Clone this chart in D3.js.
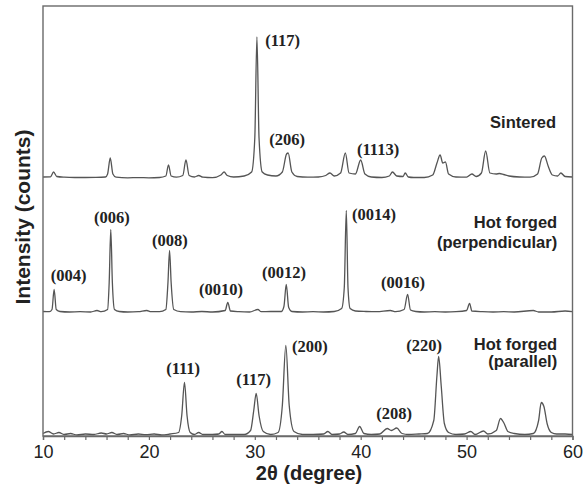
<!DOCTYPE html>
<html>
<head>
<meta charset="utf-8">
<script src="https://cdn.jsdelivr.net/npm/d3@7"></script>
<style>
  html, body { margin: 0; padding: 0; background: #fff; }
  svg { display: block; }
</style>
</head>
<body>
<svg id="chart" width="584" height="486"></svg>
<script>
// ---------- data (2θ in degrees, intensity in arbitrary counts above each trace's baseline) ----------
const sintered = [
  [10.0,10],[10.7,12],[11.0,60],[11.3,15],[12,8],[13,5],[14,5],[15,6],[15.9,10],[16.1,40],[16.35,200],[16.6,40],
  [16.9,8],[18,2],[19,4],[20,2],[21,5],[21.6,20],[21.85,130],[22.1,20],[22.6,8],[23.2,25],[23.5,180],[23.8,25],
  [24.3,10],[24.7,25],[25.1,8],[26,3],[26.8,30],[27.1,60],[27.4,25],[28,10],[29,20],[29.7,60],[30.0,400],
  [30.2,1410],[30.4,400],[30.7,60],[31.2,30],[32,20],[32.6,60],[33.0,240],[33.15,250],[33.5,60],[34,15],[35,8],
  [36,10],[36.7,25],[37.1,50],[37.5,20],[38.1,50],[38.55,250],[38.9,50],[39.5,40],[40.0,180],[40.4,40],[41,10],
  [42,5],[42.7,20],[43.0,60],[43.4,20],[44.0,15],[44.2,50],[44.5,10],[45,5],[46,5],[46.8,30],[47.2,150],
  [47.5,230],[47.75,150],[48.0,160],[48.3,40],[49,10],[50,8],[50.5,40],[50.9,15],[51.4,50],[51.8,270],[52.2,50],
  [52.8,40],[53.1,45],[53.5,35],[54,20],[55,10],[56,8],[56.7,40],[57.1,200],[57.35,220],[57.7,120],[58.1,30],
  [58.6,20],[58.9,50],[59.3,15],[60,10]
];
const perpendicular = [
  [10,10],[10.6,8],[10.85,30],[11.05,230],[11.25,30],[11.6,10],[12.5,5],[13.5,8],[14.5,5],[15.1,20],[15.5,8],
  [16.1,30],[16.25,300],[16.4,830],[16.55,300],[16.75,30],[17.2,10],[18,5],[19,8],[19.8,20],[20.2,8],[21,8],
  [21.6,30],[21.8,300],[21.95,620],[22.1,300],[22.35,30],[23,8],[24,5],[25,10],[26,5],[27.2,20],[27.45,100],
  [27.7,15],[28.5,8],[29.5,5],[30.3,30],[30.6,8],[31.5,10],[32.5,10],[32.75,60],[32.97,280],[33.2,50],[33.5,10],
  [34.5,5],[35.5,8],[36.5,5],[37.5,10],[38.2,40],[38.45,250],[38.64,1020],[38.8,250],[39.0,40],[39.5,15],
  [40.5,10],[41.5,8],[42.8,20],[43.3,8],[44.1,30],[44.43,180],[44.7,25],[45.2,10],[46,5],[47,8],[48,5],[49,8],
  [50.0,20],[50.28,90],[50.5,15],[51.5,8],[52.5,5],[53.5,8],[54.5,5],[56.3,20],[56.8,5],[58,5],[59.3,15],[60,8]
];
const parallel = [
  [10,20],[10.5,40],[11,15],[11.5,30],[12,10],[12.6,20],[13.2,5],[14,15],[14.8,10],[15.5,25],[16,15],[16.5,30],
  [17,10],[17.6,20],[18.2,5],[19,15],[19.7,8],[20.5,15],[21.2,5],[22,15],[22.8,30],[23.1,200],[23.36,530],
  [23.6,200],[23.9,30],[24.3,10],[24.7,30],[25.1,10],[26,10],[26.6,15],[26.9,40],[27.2,10],[28,10],[29,10],
  [29.6,50],[29.9,250],[30.13,420],[30.4,200],[30.8,40],[31.5,10],[32.2,30],[32.6,300],[32.93,900],[33.25,300],
  [33.7,40],[34.5,10],[35.5,10],[36.5,15],[36.9,40],[37.3,10],[38,15],[38.4,35],[38.8,10],[39.5,20],[39.9,90],
  [40.3,20],[41,10],[41.8,15],[42.5,70],[42.9,50],[43.4,75],[43.9,20],[44.5,10],[45.5,15],[46.3,20],[46.9,150],
  [47.2,600],[47.36,790],[47.6,500],[47.9,120],[48.3,30],[49,10],[49.8,15],[50.4,40],[50.8,10],[51.6,45],[52,15],
  [52.8,50],[53.2,170],[53.5,130],[53.9,40],[54.5,20],[55.5,10],[56.3,20],[56.8,150],[57.05,330],[57.3,290],
  [57.6,120],[58,30],[58.5,15],[59.3,15],[60,10]
];
const seriesNames = ["Sintered", "Hot forged (perpendicular)", "Hot forged (parallel)"];
const xTicks = [10,12,14,16,18,20,22,24,26,28,30,32,34,36,38,40,42,44,46,48,50,52,54,56,58,60];
const xTickLabels = ["10","20","30","40","50","60"];
// peak index labels: [text, 2θ of label start, intensity level (stacked counts)]
const peakLabels = [
  ["(117)", 30.98, 3900], ["(206)", 31.36, 2910], ["(1113)", 39.65, 2810],
  ["(004)", 10.73, 1550], ["(006)", 14.82, 2130], ["(008)", 20.30, 1900], ["(0010)", 24.74, 1410],
  ["(0012)", 30.67, 1580], ["(0014)", 39.18, 2160], ["(0016)", 41.92, 1480],
  ["(111)", 21.63, 620], ["(117)", 28.24, 510], ["(200)", 33.51, 840], ["(208)", 41.47, 170], ["(220)", 44.31, 850]
];
// series name labels: [line text, 2θ of right edge, stacked counts level]
const seriesLabels = [
  ["Sintered", 58.45, 3080],
  ["Hot forged", 58.55, 2080], ["(perpendicular)", 58.55, 1880],
  ["Hot forged", 58.55, 860], ["(parallel)", 58.55, 690]
];
// vertical stacking offsets (counts) for the three traces
const offsets = [2580, 1235, 5];

// ---------- layout ----------
const svg = d3.select("#chart");
const L = 43, R = 572.5, T = 6, B = 436;
const x = d3.scaleLinear().domain([10, 60]).range([L, R]);
const y = d3.scaleLinear().domain([0, 4300]).range([B, T]);

const traceColor = "#555";
const frameColor = "#6a6a6a";

// traces
const line = d3.line().x(d => x(d[0])).y(d => y(d[1])).curve(d3.curveMonotoneX);
[sintered, perpendicular, parallel].forEach((s, i) => {
  svg.append("path")
    .datum(s.map(d => [d[0], d[1] + offsets[i]]))
    .attr("d", line)
    .attr("fill", "none")
    .attr("stroke", traceColor)
    .attr("stroke-width", 1.3)
    .attr("stroke-linejoin", "round");
});

// frame
svg.append("rect")
  .attr("x", L).attr("y", T).attr("width", R - L).attr("height", B - T)
  .attr("fill", "none").attr("stroke", frameColor).attr("stroke-width", 1.4);

// bottom axis
const axis = d3.axisBottom(x)
  .tickValues(xTicks)
  .tickSize(4)
  .tickPadding(5.5)
  .tickFormat(d => xTickLabels.includes(String(d)) ? String(d) : "");
const gx = svg.append("g").attr("transform", `translate(0,${B})`).call(axis);
gx.select(".domain").attr("stroke", frameColor).attr("stroke-width", 1.4);
gx.selectAll(".tick line").attr("stroke", frameColor).attr("stroke-width", 1.2);
gx.selectAll(".tick text")
  .attr("font-family", "Liberation Sans, Arial, sans-serif")
  .attr("font-size", 18).attr("fill", "#222");

// axis titles
svg.append("text")
  .attr("x", 309).attr("y", 480)
  .attr("text-anchor", "middle")
  .attr("font-family", "Liberation Sans, Arial, sans-serif")
  .attr("font-weight", "bold").attr("font-size", 20).attr("fill", "#222")
  .text("2θ (degree)");
svg.append("text")
  .attr("transform", "translate(30,217) rotate(-90)")
  .attr("text-anchor", "middle")
  .attr("font-family", "Liberation Sans, Arial, sans-serif")
  .attr("font-weight", "bold").attr("font-size", 21).attr("fill", "#222")
  .text("Intensity (counts)");

// peak labels
svg.append("g").selectAll("text").data(peakLabels).join("text")
  .attr("x", d => x(d[1])).attr("y", d => y(d[2]))
  .attr("font-family", "Liberation Serif, Times New Roman, serif")
  .attr("font-weight", "bold").attr("font-size", 16.5).attr("fill", "#222")
  .text(d => d[0]);

// series labels
svg.append("g").selectAll("text").data(seriesLabels).join("text")
  .attr("x", d => x(d[1])).attr("y", d => y(d[2]))
  .attr("text-anchor", "end")
  .attr("font-family", "Liberation Sans, Arial, sans-serif")
  .attr("font-weight", "bold").attr("font-size", 16.5).attr("fill", "#222")
  .text(d => d[0]);
</script>
</body>
</html>
